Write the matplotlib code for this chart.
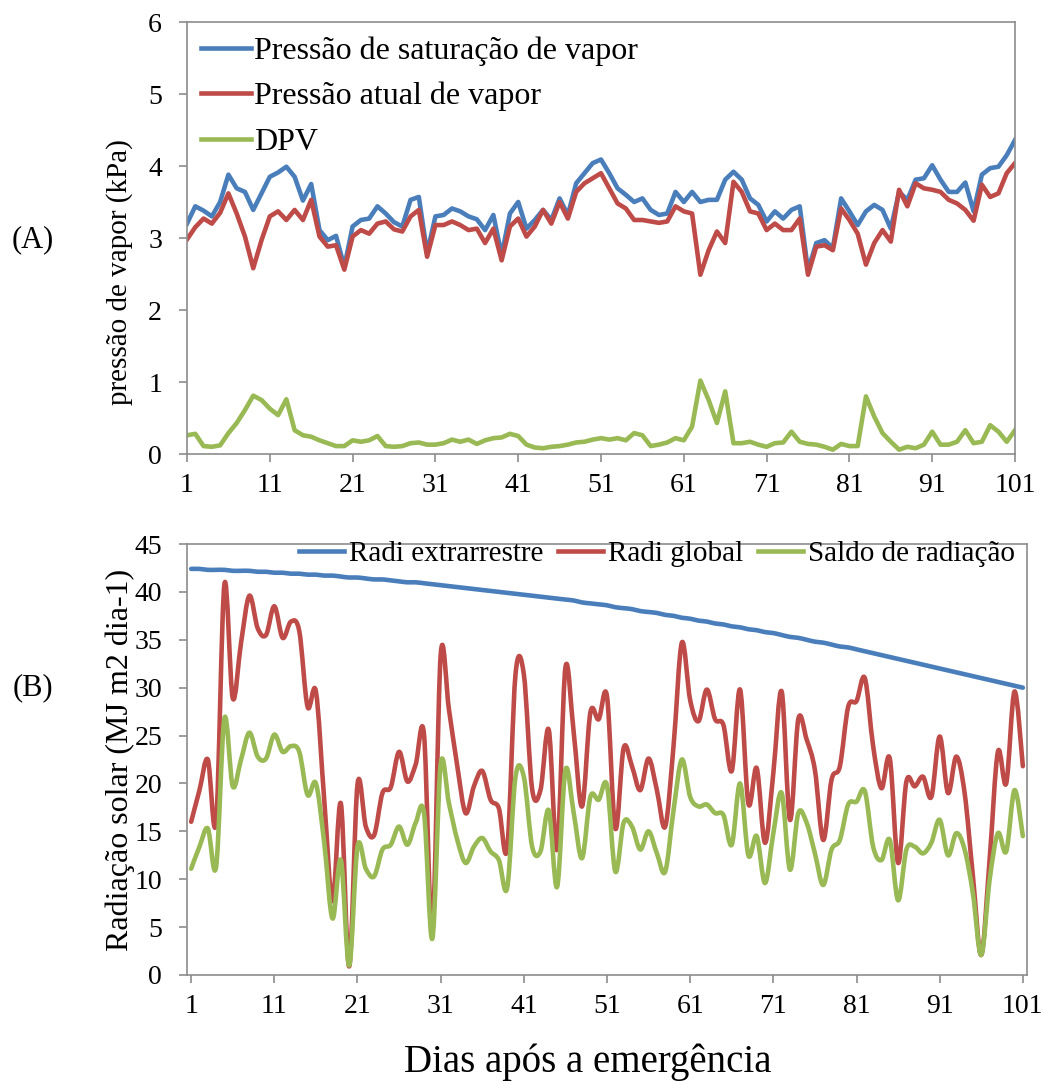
import numpy as np
import matplotlib
matplotlib.use("Agg")
import matplotlib.pyplot as plt
from matplotlib.path import Path
from matplotlib.patches import PathPatch
from matplotlib.lines import Line2D

plt.rcParams['font.family'] = ['Liberation Serif', 'DejaVu Serif']

# (A) vapour pressure, kPa, days 1..101
dias_a = np.arange(1, 102)
p_sat = [3.20, 3.44, 3.38, 3.30, 3.50, 3.88, 3.69, 3.64, 3.39, 3.62,
         3.85, 3.91, 3.99, 3.85, 3.52, 3.75, 3.11, 2.97, 3.03, 2.60,
         3.16, 3.25, 3.27, 3.44, 3.34, 3.22, 3.16, 3.53, 3.57, 2.79,
         3.30, 3.32, 3.41, 3.37, 3.30, 3.26, 3.11, 3.32, 2.76, 3.34,
         3.50, 3.13, 3.25, 3.39, 3.25, 3.55, 3.32, 3.76, 3.90, 4.04,
         4.09, 3.90, 3.69, 3.60, 3.50, 3.55, 3.39, 3.32, 3.34, 3.64,
         3.50, 3.64, 3.50, 3.53, 3.53, 3.81, 3.92, 3.81, 3.55, 3.46,
         3.23, 3.37, 3.27, 3.39, 3.44, 2.55, 2.93, 2.97, 2.86, 3.55,
         3.37, 3.18, 3.37, 3.46, 3.39, 3.13, 3.64, 3.53, 3.81, 3.83,
         4.01, 3.81, 3.64, 3.64, 3.77, 3.37, 3.88, 3.97, 3.99, 4.15,
         4.36]
p_atual = [2.98, 3.15, 3.27, 3.20, 3.35, 3.62, 3.34, 3.02, 2.58, 2.97,
           3.30, 3.37, 3.25, 3.39, 3.25, 3.53, 3.02, 2.88, 2.90, 2.56,
           3.02, 3.11, 3.06, 3.20, 3.23, 3.12, 3.09, 3.30, 3.39, 2.74,
           3.18, 3.18, 3.23, 3.18, 3.11, 3.13, 2.93, 3.13, 2.69, 3.16,
           3.27, 3.02, 3.16, 3.39, 3.20, 3.50, 3.27, 3.64, 3.76, 3.83,
           3.90, 3.69, 3.48, 3.41, 3.25, 3.25, 3.23, 3.21, 3.23, 3.44,
           3.37, 3.34, 2.49, 2.83, 3.09, 2.93, 3.78, 3.64, 3.37, 3.34,
           3.11, 3.20, 3.11, 3.11, 3.27, 2.49, 2.88, 2.90, 2.83, 3.41,
           3.25, 3.06, 2.63, 2.93, 3.11, 2.95, 3.67, 3.44, 3.76, 3.69,
           3.67, 3.64, 3.53, 3.48, 3.39, 3.24, 3.74, 3.57, 3.62, 3.90,
           4.04]
dpv = [0.26, 0.28, 0.11, 0.10, 0.12, 0.29, 0.43, 0.61, 0.81, 0.75,
       0.63, 0.54, 0.76, 0.33, 0.26, 0.24, 0.19, 0.15, 0.11, 0.11,
       0.19, 0.17, 0.19, 0.25, 0.11, 0.10, 0.11, 0.15, 0.16, 0.13,
       0.13, 0.15, 0.20, 0.17, 0.20, 0.14, 0.19, 0.22, 0.23, 0.28,
       0.25, 0.13, 0.09, 0.08, 0.10, 0.11, 0.13, 0.16, 0.17, 0.20,
       0.22, 0.20, 0.22, 0.19, 0.29, 0.26, 0.11, 0.13, 0.16, 0.22,
       0.19, 0.38, 1.02, 0.75, 0.43, 0.87, 0.15, 0.15, 0.17, 0.13,
       0.10, 0.15, 0.16, 0.31, 0.17, 0.14, 0.13, 0.10, 0.06, 0.14,
       0.11, 0.11, 0.80, 0.52, 0.29, 0.17, 0.06, 0.10, 0.08, 0.13,
       0.31, 0.13, 0.13, 0.17, 0.33, 0.15, 0.17, 0.40, 0.31, 0.17,
       0.33]

# (B) radiation, MJ m2 dia-1, days 1..101
dias_b = np.arange(1, 102)
rad_extra = [42.4, 42.4, 42.3, 42.3, 42.3, 42.2, 42.2, 42.2, 42.1, 42.1,
             42.0, 42.0, 41.9, 41.9, 41.8, 41.8, 41.7, 41.7, 41.6, 41.5,
             41.5, 41.4, 41.3, 41.3, 41.2, 41.1, 41.0, 41.0, 40.9, 40.8,
             40.7, 40.6, 40.5, 40.4, 40.3, 40.2, 40.1, 40.0, 39.9, 39.8,
             39.7, 39.6, 39.5, 39.4, 39.3, 39.2, 39.1, 38.9, 38.8, 38.7,
             38.6, 38.4, 38.3, 38.2, 38.0, 37.9, 37.8, 37.6, 37.5, 37.3,
             37.2, 37.0, 36.9, 36.7, 36.6, 36.4, 36.3, 36.1, 36.0, 35.8,
             35.7, 35.5, 35.3, 35.2, 35.0, 34.8, 34.7, 34.5, 34.3, 34.2,
             34.0, 33.8, 33.6, 33.4, 33.2, 33.0, 32.8, 32.6, 32.4, 32.2,
             32.0, 31.8, 31.6, 31.4, 31.2, 31.0, 30.8, 30.6, 30.4, 30.2,
             30.0]
rad_global = [16.0, 19.3, 22.5, 16.0, 40.8, 28.9, 34.7, 39.6, 36.2, 35.5,
              38.5, 35.2, 36.9, 35.9, 28.0, 29.6, 18.3, 7.7, 17.9, 0.9,
              19.9, 15.5, 14.6, 19.0, 19.6, 23.3, 20.2, 22.0, 25.1, 4.5,
              33.4, 27.7, 21.8, 16.9, 19.7, 21.3, 18.3, 17.4, 13.2, 31.4,
              31.4, 19.4, 19.3, 25.6, 13.1, 32.1, 25.3, 17.6, 27.4, 26.7,
              29.1, 15.3, 23.7, 21.8, 19.3, 22.6, 19.3, 15.5, 23.9, 34.7,
              28.7, 26.5, 29.8, 26.7, 26.1, 21.3, 29.8, 17.9, 21.6, 13.8,
              21.1, 29.6, 16.2, 26.7, 24.6, 21.4, 14.1, 20.4, 21.8, 28.0,
              28.6, 31.0, 23.9, 19.5, 22.6, 11.7, 20.2, 19.7, 20.7, 18.6,
              24.9, 19.0, 22.8, 19.0, 10.3, 2.1, 12.0, 23.3, 20.0, 29.6,
              21.8]
saldo = [11.1, 13.4, 15.3, 11.3, 26.8, 19.7, 22.5, 25.3, 22.8, 22.6,
         25.1, 23.3, 23.9, 23.3, 18.8, 20.0, 13.8, 5.9, 12.0, 1.0,
         13.4, 11.1, 10.3, 13.1, 13.6, 15.5, 13.6, 15.9, 16.9, 3.8,
         22.0, 17.9, 14.1, 11.7, 13.4, 14.3, 12.9, 12.0, 9.1, 20.7,
         20.7, 13.4, 12.9, 17.2, 9.2, 21.4, 16.9, 12.2, 18.6, 18.3,
         19.8, 10.8, 15.9, 15.5, 13.1, 15.0, 12.7, 10.8, 17.2, 22.5,
         18.6, 17.6, 17.8, 16.9, 16.7, 13.6, 20.0, 12.5, 14.5, 9.6,
         14.8, 19.0, 11.0, 16.9, 15.9, 12.7, 9.4, 13.1, 14.1, 17.8,
         18.1, 19.2, 13.4, 12.0, 14.1, 7.8, 13.1, 13.4, 12.7, 13.8,
         16.2, 12.5, 14.8, 13.1, 8.5, 2.1, 9.9, 14.8, 12.9, 19.3,
         14.5]

AZUL = '#4a7ebb'
VERMELHO = '#be4b48'
VERDE = '#98b954'
CINZA = '#8c8c8c'


def curva(x, y):
    # smoothed line like excel: cubic bezier through every point
    x = np.asarray(x, float)
    y = np.asarray(y, float)
    px = np.r_[x[0], x, x[-1]]
    py = np.r_[y[0], y, y[-1]]
    verts = [(x[0], y[0])]
    codes = [Path.MOVETO]
    for i in range(len(x) - 1):
        c1 = (x[i] + (px[i + 2] - px[i]) / 6, y[i] + (py[i + 2] - py[i]) / 6)
        c2 = (x[i + 1] - (px[i + 3] - px[i + 1]) / 6, y[i + 1] - (py[i + 3] - py[i + 1]) / 6)
        verts += [c1, c2, (x[i + 1], y[i + 1])]
        codes += [Path.CURVE4] * 3
    return Path(verts, codes)


def estilo(ax):
    for s in ax.spines.values():
        s.set_color(CINZA)
        s.set_linewidth(1.2)
    ax.tick_params(direction='out', length=6, width=1.2, color=CINZA,
                   labelsize=20)
    ax.tick_params(axis='y', pad=12)
    ax.tick_params(axis='x', pad=8)


W, H = 1043, 1081
fig = plt.figure(figsize=(W / 100, H / 100), dpi=100)

# ---- (A)
ax1 = fig.add_axes([187 / W, 1 - 454 / H, 828 / W, 432 / H])
ax1.plot(dias_a, p_sat, color=AZUL, lw=3.3, solid_joinstyle='round',
         label='Pressão de saturação de vapor')
ax1.plot(dias_a, p_atual, color=VERMELHO, lw=3.3, solid_joinstyle='round',
         label='Pressão atual de vapor')
ax1.plot(dias_a, dpv, color=VERDE, lw=3.3, solid_joinstyle='round', label='DPV')
ax1.set_xlim(1, 101)
ax1.set_ylim(0, 6)
ax1.set_xticks(np.arange(1, 102, 10))
ax1.set_yticks(np.arange(0, 7, 1))
estilo(ax1)
ax1.legend(loc='upper left', bbox_to_anchor=(0.0, 1.0), frameon=False,
           fontsize=23, handlelength=1.55, handletextpad=0.1,
           labelspacing=0.5, borderaxespad=0.05)
fig.text(120 / W, 1 - 272 / H, 'pressão de vapor (kPa)', rotation=90,
         ha='center', va='center', fontsize=21)
fig.text(33 / W, 1 - 240 / H, '(A)', ha='center', va='center', fontsize=22)

# ---- (B)
ax2 = fig.add_axes([187 / W, 1 - 975 / H, 840 / W, 431 / H])
for serie, cor in [(rad_extra, AZUL), (rad_global, VERMELHO), (saldo, VERDE)]:
    ax2.add_patch(PathPatch(curva(dias_b, serie), fill=False, edgecolor=cor,
                            lw=3.3, capstyle='round', joinstyle='round'))
ax2.set_xlim(0.5, 101.5)
ax2.set_ylim(0, 45)
ax2.set_xticks(np.arange(1, 102, 10))
ax2.set_yticks(np.arange(0, 46, 5))
estilo(ax2)
alcas = [Line2D([], [], color=c, lw=3.3) for c in (AZUL, VERMELHO, VERDE)]
ax2.legend(alcas, ['Radi extrarrestre', 'Radi global', 'Saldo de radiação'],
           loc='upper right', bbox_to_anchor=(1.0, 1.035), ncol=3, frameon=False,
           fontsize=21, handlelength=1.55, handletextpad=0.17, columnspacing=0.5,
           borderaxespad=0.0, borderpad=0.4)
fig.text(120 / W, 1 - 760 / H, 'Radiação solar (MJ m2 dia-1)', rotation=90,
         ha='center', va='center', fontsize=23)
fig.text(33 / W, 1 - 688 / H, '(B)', ha='center', va='center', fontsize=22)
fig.text(588 / W, 1 - 1062 / H, 'Dias após a emergência', ha='center',
         va='center', fontsize=28)

fig.savefig('out.png', dpi=100)
